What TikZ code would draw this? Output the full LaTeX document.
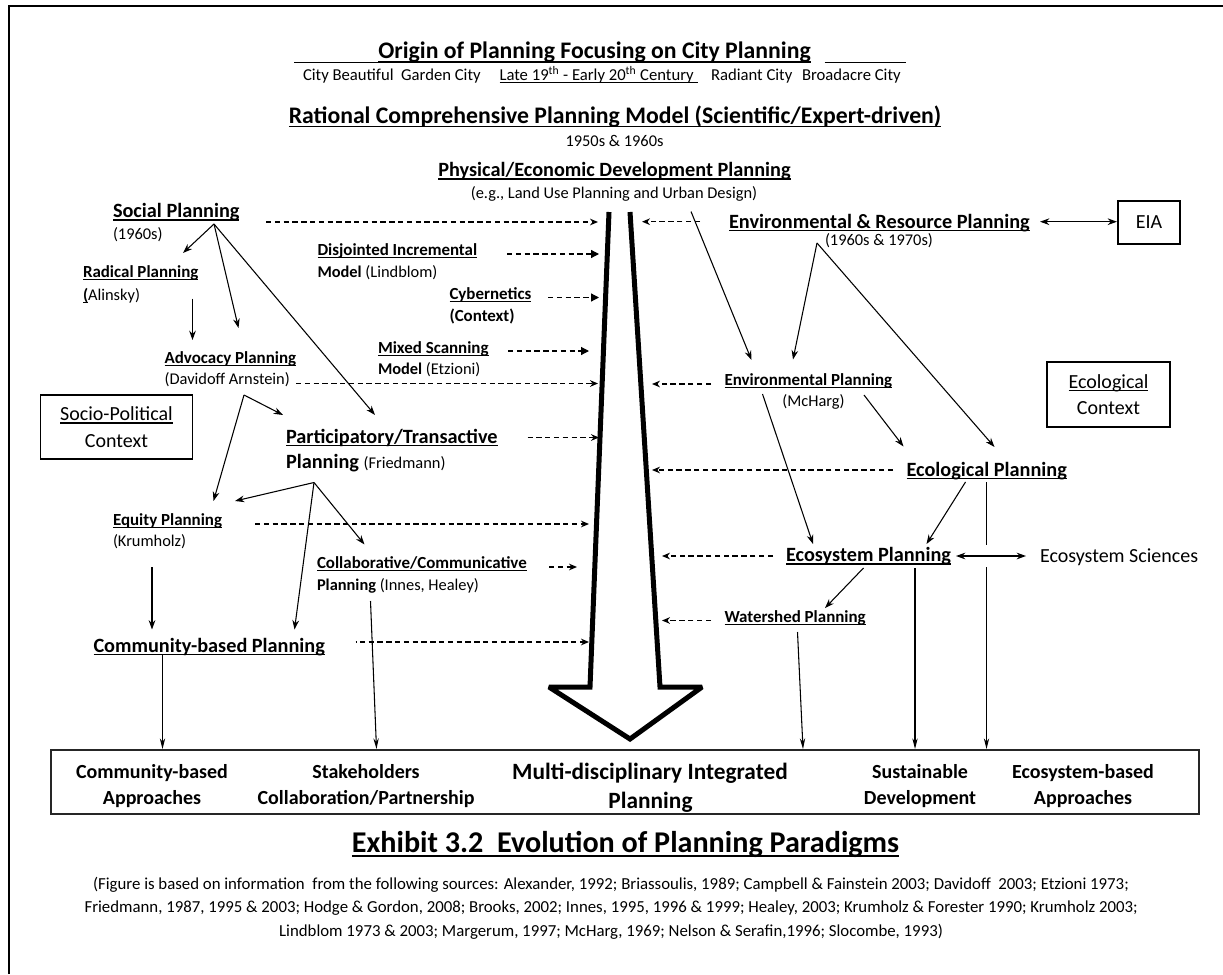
\documentclass[tikz,border=0pt]{standalone}
\usepackage{fontspec}
\setmainfont{Carlito}
\usetikzlibrary{arrows.meta}

% underline drawn as a rule under the text box
\newsavebox{\ulbox}
\newcommand{\ulx}[1]{\sbox{\ulbox}{#1}\rlap{\usebox{\ulbox}}\rule[-0.16em]{\wd\ulbox}{0.065em}}

% font sizes
\newcommand{\fTitle}{\fontsize{17.8}{20}\selectfont\bfseries}
\newcommand{\fMulti}{\fontsize{17.5}{20}\selectfont\bfseries}
\newcommand{\fBig}{\fontsize{15.2}{18}\selectfont\bfseries}
\newcommand{\fSmB}{\fontsize{12.7}{15}\selectfont\bfseries}
\newcommand{\fSm}{\fontsize{12.3}{15}\selectfont\mdseries}
\newcommand{\fSub}{\fontsize{12.5}{15}\selectfont}
\newcommand{\fBox}{\fontsize{15}{20}\selectfont}
\newcommand{\fOut}{\fontsize{15}{18}\selectfont\bfseries}
\newcommand{\fExh}{\fontsize{22.6}{26}\selectfont\bfseries}
\newcommand{\fCite}{\fontsize{12.6}{14}\selectfont}

\begin{document}
\begin{tikzpicture}[x=0.75pt,y=-0.75pt,
  txt/.style={inner sep=0pt, outer sep=0pt},
  lt/.style={txt, anchor=base west},
  ct/.style={txt, anchor=base},
  dsh/.style={line width=0.9pt, dash pattern=on 4pt off 2.6pt},
  feed/.style={dsh, -{Stealth[length=6pt,width=5pt]}},
  feedfill/.style={dsh, -{Triangle[length=6pt,width=6pt]}},
  link/.style={line width=0.8pt, -{Stealth[length=7pt,width=5pt]}},
  drop/.style={line width=0.8pt, -{Stealth[length=8pt,width=4pt]}},
  both/.style={line width=0.9pt, {Stealth[length=7pt,width=5pt]}-{Stealth[length=7pt,width=5pt]}},
  ln/.style={line width=0.8pt},
  boxed/.style={draw, line width=1.1pt, inner sep=0pt, align=center, font=\fBox},
  bigarrow/.style={line width=3.75pt, line join=miter, miter limit=2}
]
\useasboundingbox (0,0) rectangle (1223,974);
\fill[white] (0,0) rectangle (1223,974);

% page frame
\draw[line width=1.5pt] (9,974) -- (9,6) -- (1223,6);

% ---------------- header ----------------
\node[ct] (orig) at (594.5,59) {\fTitle\ulx{Origin of Planning Focusing on City Planning}};
\draw[line width=1.1pt] ([shift={(-84,3.5)}]orig.base west) -- ([shift={(0,3.5)}]orig.base west);
\draw[line width=1.1pt] ([shift={(14,3.5)}]orig.base east) -- ([shift={(95,3.5)}]orig.base east);

\node[lt] (cb)  at (303,80.5)   {\fSub City Beautiful\ \ Garden City};
\node[lt] (era) at (499.5,80.5) {\fSub\ulx{Late 19\textsuperscript{th} - Early 20\textsuperscript{th} Century }};
\node[lt] (rc)  at (711,80.5)   {\fSub Radiant City};
\node[lt] (bc)  at (802,80.5)   {\fSub Broadacre City};

\node[ct] (rcpm)   at (615,123.5)  {\fTitle\ulx{Rational Comprehensive Planning Model (Scientific/Expert-driven)}};
\node[ct] (yrs)    at (614.5,146)  {\fSm 1950s \& 1960s};
\node[ct] (phys)   at (614.5,176.5){\fBig\ulx{Physical/Economic Development Planning}};
\node[ct] (physeg) at (614,198.5)  {\fSm (e.g., Land Use Planning and Urban Design)};

% ---------------- central arrow ----------------
\draw[bigarrow] (609,212) -- (590,687) -- (549,687) -- (630,739) -- (702,687) -- (660,687) -- (630,212);

% ---------------- social side ----------------
\node[lt] (soc)   at (113,217.5) {\fBig\ulx{Social Planning}};
\node[lt] (socyr) at (113,239.5) {\fSm (1960s)};
\node[lt] (rad)   at (83,277.5)  {\fSmB\ulx{Radical Planning}};
\node[lt] (radn)  at (83,300)    {\fSm\ulx{\bfseries(}Alinsky)};
\node[lt] (adv)   at (164.6,363.5) {\fSmB\ulx{Advocacy Planning}};
\node[lt] (advn)  at (164.6,384.5) {\fSm (Davidoff Arnstein)};
\node[lt] (dis)   at (317.5,255) {\fSmB\ulx{Disjointed Incremental}};
\node[lt] (disn)  at (317.5,277.5) {\fSm\textbf{Model} (Lindblom)};
\node[lt] (cyb)   at (449.5,299) {\fSmB\ulx{Cybernetics}};
\node[lt] (cybn)  at (449.5,321) {\fSmB (Context)};
\node[lt] (mix)   at (378,353)   {\fSmB\ulx{Mixed Scanning}};
\node[lt] (mixn)  at (378,374.5) {\fSm\textbf{Model} (Etzioni)};
\node[lt] (par)   at (286,443)   {\fBig\ulx{Participatory/Transactive}};
\node[lt] (parn)  at (286,468)   {\fBig Planning {\fSm (Friedmann)}};
\node[lt] (equ)   at (113,525)   {\fSmB\ulx{Equity Planning}};
\node[lt] (equn)  at (113,546.5) {\fSm (Krumholz)};
\node[lt] (col)   at (317,568.5) {\fSmB\ulx{Collaborative/Communicative}};
\node[lt] (coln)  at (317,590.5) {\fSm\textbf{Planning} (Innes, Healey)};
\node[lt] (com)   at (93.5,652)  {\fBig\ulx{Community-based Planning}};

\node[boxed, minimum width=114pt, minimum height=48pt] (spc) at (116.5,427) {\ulx{Socio-Political}\\Context};

% ---------------- environmental side ----------------
\node[lt] (er)    at (729,228)   {\fBig\ulx{Environmental \& Resource Planning}};
\node[lt] (eryr)  at (825,245.5) {\fSm (1960s \& 1970s)};
\node[boxed, minimum width=46.5pt, minimum height=32.25pt] (eia) at (1149,222.5) {EIA};
\node[lt] (envp)  at (724.6,385) {\fSmB\ulx{Environmental Planning}};
\node[ct] (envpn) at (813.5,406) {\fSm (McHarg)};
\node[boxed, minimum width=92.25pt, minimum height=48.75pt] (ecx) at (1108.5,394.5) {\ulx{Ecological}\\Context};
\node[lt] (ecolp) at (906.5,476) {\fBig\ulx{Ecological Planning}};
\node[lt] (ecos)  at (786,561.5) {\fBig\ulx{Ecosystem Planning}};
\node[lt] (ecsci) at (1040,562)  {\fBox Ecosystem Sciences};
\node[lt] (wat)   at (724.5,622) {\fSmB\ulx{Watershed Planning}};

% ---------------- outcomes ----------------
\node[draw, line width=1.1pt, draw=black!85, inner sep=0pt, minimum width=861pt, minimum height=48pt] (outbox) at (625,782) {};
\node[ct] (o1a) at (152,778)   {\fOut Community-based};
\node[ct] (o1b) at (152,804)   {\fOut Approaches};
\node[ct] (o2a) at (366,778)   {\fOut Stakeholders};
\node[ct] (o2b) at (366,804)   {\fOut Collaboration/Partnership};
\node[ct] (o3a) at (650,779)   {\fMulti Multi-disciplinary Integrated};
\node[ct] (o3b) at (650.5,808) {\fMulti Planning};
\node[ct] (o4a) at (920,778)   {\fOut Sustainable};
\node[ct] (o4b) at (920,804)   {\fOut Development};
\node[ct] (o5a) at (1083,778)  {\fOut Ecosystem-based};
\node[ct] (o5b) at (1083,804)  {\fOut Approaches};

\node[ct] (exh) at (625.5,852) {\fExh\ulx{Exhibit 3.2\ \ Evolution of Planning Paradigms}};

\node[ct] (cit1) at (611,889.5) {\fCite (Figure is based on information\ \ from the following sources: Alexander, 1992; Briassoulis, 1989; Campbell \& Fainstein 2003; Davidoff\ \ 2003; Etzioni 1973;};
\node[ct] (cit2) at (611,912.5) {\fCite Friedmann, 1987, 1995 \& 2003; Hodge \& Gordon, 2008; Brooks, 2002; Innes, 1995, 1996 \& 1999; Healey, 2003; Krumholz \& Forester 1990; Krumholz 2003;};
\node[ct] (cit3) at (611,936)   {\fCite Lindblom 1973 \& 2003; Margerum, 1997; McHarg, 1969; Nelson \& Serafin,1996; Slocombe, 1993)};

% ---------------- connector end points ----------------
% feeds into the left side of the central arrow
\coordinate (soc-f) at (266,222);    \coordinate (sh-soc) at (598,222);
\coordinate (dis-f) at (507,254);    \coordinate (sh-dis) at (599,254);
\coordinate (cyb-f) at (548,297.5);  \coordinate (sh-cyb) at (599,297.5);
\coordinate (mix-f) at (508,351);    \coordinate (sh-mix) at (589,351);
\coordinate (adv-f) at (296,383.5);  \coordinate (sh-adv) at (598,383.5);
\coordinate (par-f) at (527.5,437.5);\coordinate (sh-par) at (599,437.5);
\coordinate (equ-f) at (255,524);    \coordinate (sh-equ) at (589,524);
\coordinate (col-f) at (549,567);    \coordinate (sh-col) at (577,567);
\coordinate (com-f) at (355.5,642);  \coordinate (sh-com) at (589,642);
% feeds into the right side of the central arrow
\coordinate (er-f)    at (700,221.7); \coordinate (sh-er)    at (642,221.7);
\coordinate (envp-f)  at (711,384);   \coordinate (sh-envp)  at (652,384);
\coordinate (ecolp-f) at (893,470);   \coordinate (sh-ecolp) at (652,470);
\coordinate (ecos-f)  at (773,556);   \coordinate (sh-ecos)  at (662,556);
\coordinate (wat-f)   at (711,620.5); \coordinate (sh-wat)   at (662,620.5);
% branching points and targets
\coordinate (soc-o)  at (214,224);
\coordinate (rad-i)  at (183,253);
\coordinate (adv-i1) at (238.5,328);
\coordinate (par-i1) at (375,415);
\coordinate (rad-o)  at (192.5,298.5);
\coordinate (adv-i2) at (192.5,340);
\coordinate (adv-o)  at (244,395);
\coordinate (par-i2) at (283,415);
\coordinate (equ-i1) at (213.5,501);
\coordinate (par-o)  at (314,482.5);
\coordinate (equ-i2) at (235,501);
\coordinate (col-i)  at (364.5,544.5);
\coordinate (com-i1) at (294.5,629.5);
\coordinate (equ-o)  at (152,567);
\coordinate (com-i2) at (152,629.5);
\coordinate (com-o)  at (162.5,655);
\coordinate (col-o)  at (370.5,601);
\coordinate (phys-o) at (691,211.5);
\coordinate (envp-i1) at (751.5,360);
\coordinate (er-o)   at (817,243);
\coordinate (envp-i2) at (793,359.5);
\coordinate (ecolp-i1) at (994.5,447);
\coordinate (envp-o1) at (864,395);
\coordinate (ecolp-i2) at (903.5,446.5);
\coordinate (envp-o2) at (762.5,394);
\coordinate (ecos-i1) at (813,544);
\coordinate (ecolp-o) at (965.5,482);
\coordinate (ecos-i2) at (926.5,544);
\coordinate (ecolp-d) at (986.5,482);
\coordinate (ecolp-gap1) at (986.5,545);
\coordinate (ecolp-gap2) at (986.5,567);
\coordinate (ecos-o1) at (915,568);
\coordinate (ecos-o2) at (863.5,568);
\coordinate (wat-i)  at (825,608);
\coordinate (wat-o)  at (797.5,632);
\coordinate (er-e)   at (1040,221.7);
\coordinate (eia-w)  at (1117,221.7);
\coordinate (ecos-e) at (956,556);
\coordinate (sci-w)  at (1026,556);
% arrival points on the outcome box
\coordinate (ob1) at (162.5,749);
\coordinate (ob2) at (376.5,749);
\coordinate (ob3) at (803,749);
\coordinate (ob4) at (915,749);
\coordinate (ob5) at (986.5,749);

% ---------------- dashed feeds ----------------
\draw[feed] (soc-f) -- (sh-soc);
\draw[feedfill] (dis-f) -- (sh-dis);
\draw[feedfill] (cyb-f) -- (sh-cyb);
\draw[feedfill] (mix-f) -- (sh-mix);
\draw[feed] (adv-f) -- (sh-adv);
\draw[feed] (par-f) -- (sh-par);
\draw[feed] (equ-f) -- (sh-equ);
\draw[feed] (col-f) -- (sh-col);
\draw[feed, dash phase=3.4pt] (com-f) -- (sh-com);
\draw[feed] (er-f) -- (sh-er);
\draw[feed] (envp-f) -- (sh-envp);
\draw[feed] (ecolp-f) -- (sh-ecolp);
\draw[feed] (ecos-f) -- (sh-ecos);
\draw[feed] (wat-f) -- (sh-wat);

% ---------------- solid links ----------------
\draw[link] (soc-o) -- (rad-i);
\draw[link] (soc-o) -- (adv-i1);
\draw[link] (soc-o) -- (par-i1);
\draw[link] (rad-o) -- (adv-i2);
\draw[link] (adv-o) -- (par-i2);
\draw[link] (adv-o) -- (equ-i1);
\draw[link] (par-o) -- (equ-i2);
\draw[link] (par-o) -- (col-i);
\draw[link] (par-o) -- (com-i1);
\draw[link] (equ-o) -- (com-i2);
\draw[link] (phys-o) -- (envp-i1);
\draw[link] (er-o) -- (envp-i2);
\draw[link] (er-o) -- (ecolp-i1);
\draw[link] (envp-o1) -- (ecolp-i2);
\draw[link] (envp-o2) -- (ecos-i1);
\draw[link] (ecolp-o) -- (ecos-i2);
\draw[link] (ecos-o2) -- (wat-i);
\draw[both] (er-e) -- (eia-w);
\draw[both] (ecos-e) -- (sci-w);

% ---------------- drops into the outcome box ----------------
\draw[drop] (com-o) -- (ob1);
\draw[drop] (col-o) -- (ob2);
\draw[drop] (wat-o) -- (ob3);
\draw[drop] (ecos-o1) -- (ob4);
\draw[ln] (ecolp-d) -- (ecolp-gap1);
\draw[drop] (ecolp-gap2) -- (ob5);
\end{tikzpicture}
\end{document}
